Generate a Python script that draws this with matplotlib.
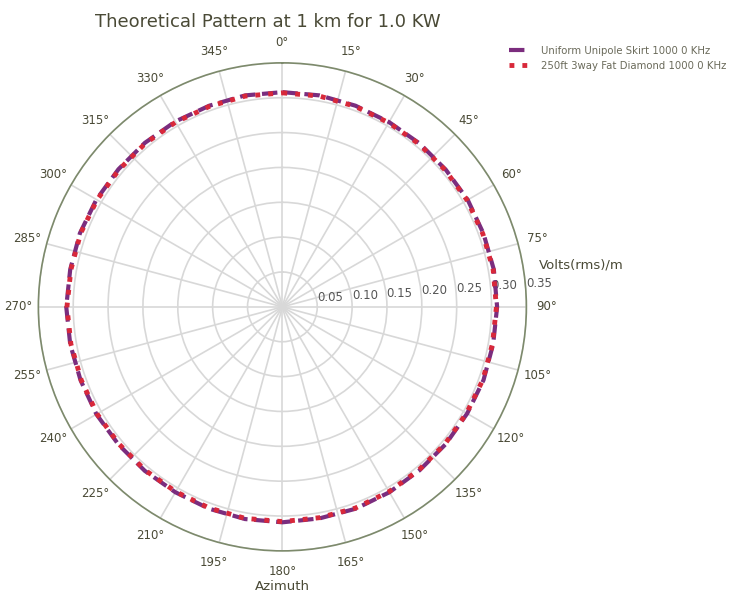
import numpy as np
import matplotlib
matplotlib.use('Agg')
import matplotlib.pyplot as plt

# azimuth (deg) and field strength (V/m)
azimuth = list(range(0, 361, 10))
unipole = [0.308, 0.308, 0.307, 0.306, 0.306, 0.306, 0.307, 0.307, 0.308, 0.308,
           0.307, 0.307, 0.306, 0.306, 0.306, 0.307, 0.308, 0.308, 0.309, 0.309,
           0.308, 0.307, 0.307, 0.307, 0.308, 0.308, 0.309, 0.310, 0.309, 0.309,
           0.308, 0.307, 0.307, 0.307, 0.307, 0.308, 0.308]
diamond = [0.307, 0.307, 0.306, 0.305, 0.305, 0.305, 0.306, 0.306, 0.307, 0.307,
           0.306, 0.306, 0.305, 0.305, 0.305, 0.306, 0.307, 0.307, 0.308, 0.308,
           0.307, 0.306, 0.306, 0.306, 0.307, 0.307, 0.308, 0.309, 0.308, 0.308,
           0.307, 0.306, 0.306, 0.306, 0.306, 0.307, 0.307]
rticks = [0.05, 0.10, 0.15, 0.20, 0.25, 0.30, 0.35]
labels = ['Uniform Unipole Skirt 1000 0 KHz', '250ft 3way Fat Diamond 1000 0 KHz']

txt = '#4a4a36'

fig = plt.figure(figsize=(7.5, 5.93), dpi=100)
ax = fig.add_axes([0.051, 0.071, 0.651, 0.823], projection='polar')
ax.set_theta_zero_location('N')
ax.set_theta_direction(-1)

th = np.radians(azimuth)
ax.plot(th, unipole, color='#7b2d7e', ls='--', lw=3, label=labels[0])
ax.plot(th, diamond, color='#d8283a', ls=':', lw=3.5, label=labels[1])

ax.set_ylim(0, 0.35)
ax.set_yticks(rticks)
ax.set_yticklabels(['%.2f' % r for r in rticks], fontsize=8.5, color='#555555')
ax.set_rlabel_position(86)
ax.set_thetagrids(np.arange(0, 360, 15), ['%d°' % a for a in range(0, 360, 15)],
                  fontsize=8.5, color=txt)
ax.tick_params(axis='x', pad=4)
ax.grid(color='#d8d8d8', lw=1.2)
ax.spines['polar'].set_color('#7d8a6c')
ax.spines['polar'].set_linewidth(1.2)

ax.set_title('Theoretical Pattern at 1 km for 1.0 KW', fontsize=13, color=txt, pad=26, x=0.47)
ax.set_xlabel('Azimuth', fontsize=9.5, color=txt, labelpad=2)
fig.text(0.718, 0.548, 'Volts(rms)/m', fontsize=9.5, color=txt)

ax.legend(loc='upper left', bbox_to_anchor=(0.673, 0.93), bbox_transform=fig.transFigure,
          frameon=False, fontsize=7.3, labelcolor='#6a6a5a', handlelength=2,
          handletextpad=1.2, borderaxespad=0)

fig.savefig('out.png', dpi=100)
